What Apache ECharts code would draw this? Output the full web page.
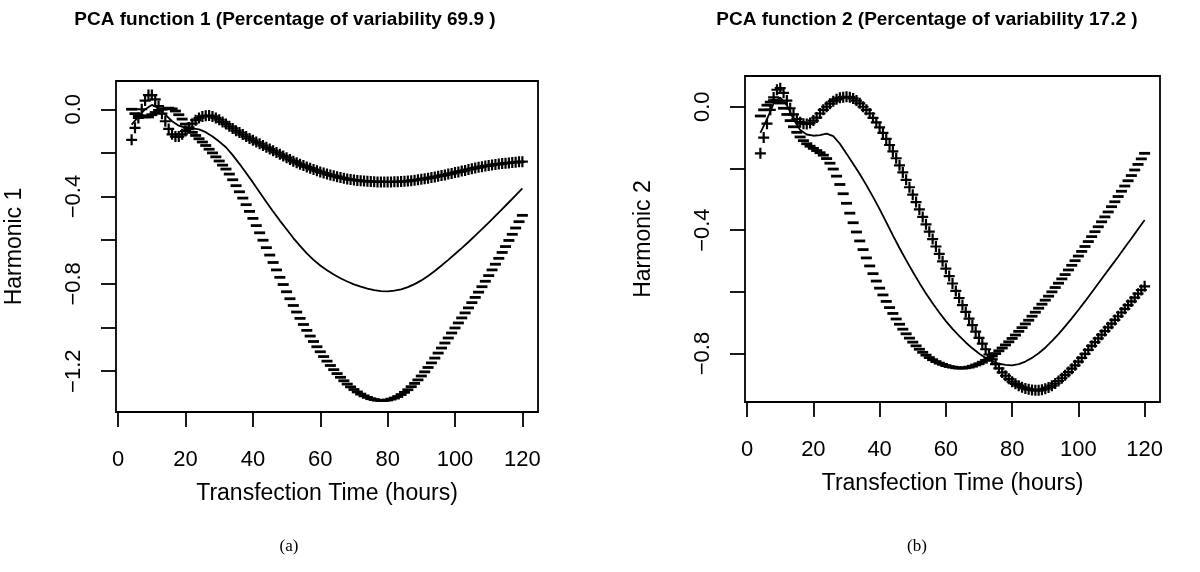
<!DOCTYPE html>
<html>
<head>
<meta charset="utf-8">
<script src="https://cdn.jsdelivr.net/npm/echarts@6/dist/echarts.min.js"></script>
<style>
html,body{margin:0;padding:0;background:#fff;}
#chart{width:1200px;height:572px;}
</style>
</head>
<body>
<div id="chart"></div>
<script>
// ---------- data ----------
const hours = [4,5,6,7,8,9,10,11,12,13,14,15,16,17,18,19,20,21,22,23,24,25,26,27,28,29,30,31,32,33,34,35,36,37,38,39,40,41,42,43,44,45,46,47,48,49,50,51,52,53,54,55,56,57,58,59,60,61,62,63,64,65,66,67,68,69,70,71,72,73,74,75,76,77,78,79,80,81,82,83,84,85,86,87,88,89,90,91,92,93,94,95,96,97,98,99,100,101,102,103,104,105,106,107,108,109,110,111,112,113,114,115,116,117,118,119,120];
const hoursMean = [4,6,8,10,12,14,16,18,20,22,24,26,28,30,32,34,36,38,40,42,44,46,48,50,52,54,56,58,60,62,64,66,68,70,72,74,76,78,80,82,84,86,88,90,92,94,96,98,100,102,104,106,108,110,112,114,116,118,120];

// Panel (a): PCA function 1
const mean1 = [-0.07,-0.035,0.0,0.02,0.005,-0.025,-0.055,-0.075,-0.085,-0.088,-0.092,-0.105,-0.125,-0.148,-0.174,-0.21,-0.25,-0.292,-0.335,-0.38,-0.425,-0.468,-0.51,-0.55,-0.59,-0.626,-0.66,-0.69,-0.716,-0.738,-0.757,-0.774,-0.789,-0.802,-0.813,-0.822,-0.829,-0.833,-0.834,-0.831,-0.825,-0.815,-0.801,-0.784,-0.764,-0.741,-0.716,-0.69,-0.663,-0.636,-0.608,-0.579,-0.549,-0.519,-0.488,-0.457,-0.426,-0.395,-0.363];
const plus1 = [-0.14,-0.085,-0.04,0.0,0.04,0.065,0.065,0.045,0.015,-0.02,-0.055,-0.09,-0.115,-0.125,-0.125,-0.115,-0.1,-0.083,-0.066,-0.05,-0.04,-0.033,-0.03,-0.029,-0.033,-0.04,-0.048,-0.058,-0.068,-0.078,-0.088,-0.098,-0.107,-0.116,-0.125,-0.134,-0.142,-0.15,-0.158,-0.166,-0.174,-0.182,-0.19,-0.198,-0.206,-0.214,-0.222,-0.23,-0.238,-0.245,-0.252,-0.258,-0.264,-0.27,-0.276,-0.282,-0.287,-0.292,-0.297,-0.301,-0.305,-0.309,-0.313,-0.316,-0.319,-0.322,-0.324,-0.326,-0.328,-0.329,-0.33,-0.331,-0.332,-0.333,-0.333,-0.333,-0.333,-0.333,-0.332,-0.332,-0.331,-0.33,-0.329,-0.327,-0.325,-0.323,-0.321,-0.318,-0.316,-0.313,-0.31,-0.307,-0.304,-0.301,-0.297,-0.294,-0.29,-0.287,-0.283,-0.28,-0.276,-0.273,-0.269,-0.266,-0.263,-0.26,-0.258,-0.255,-0.253,-0.251,-0.249,-0.247,-0.246,-0.244,-0.243,-0.241,-0.24];
const minus1 = [0.0,-0.02,-0.03,-0.03,-0.035,-0.035,-0.025,-0.015,-0.005,0.0,0.003,0.005,0.002,-0.008,-0.025,-0.045,-0.068,-0.09,-0.106,-0.12,-0.135,-0.15,-0.166,-0.183,-0.2,-0.218,-0.237,-0.256,-0.274,-0.297,-0.323,-0.35,-0.378,-0.407,-0.437,-0.468,-0.5,-0.533,-0.566,-0.6,-0.634,-0.668,-0.702,-0.736,-0.77,-0.803,-0.836,-0.868,-0.899,-0.929,-0.958,-0.986,-1.013,-1.039,-1.064,-1.088,-1.111,-1.133,-1.154,-1.174,-1.193,-1.211,-1.228,-1.244,-1.259,-1.272,-1.284,-1.295,-1.305,-1.313,-1.32,-1.326,-1.33,-1.333,-1.334,-1.334,-1.332,-1.328,-1.323,-1.316,-1.307,-1.297,-1.285,-1.271,-1.256,-1.24,-1.222,-1.203,-1.183,-1.162,-1.14,-1.117,-1.094,-1.071,-1.048,-1.025,-1.002,-0.979,-0.956,-0.933,-0.91,-0.886,-0.862,-0.838,-0.813,-0.788,-0.762,-0.736,-0.71,-0.683,-0.656,-0.629,-0.601,-0.573,-0.544,-0.515,-0.486];

// Panel (b): PCA function 2
const mean2 = [-0.085,-0.04,0.01,0.03,0.005,-0.04,-0.075,-0.09,-0.094,-0.092,-0.087,-0.095,-0.12,-0.152,-0.185,-0.218,-0.254,-0.292,-0.332,-0.374,-0.417,-0.458,-0.497,-0.535,-0.571,-0.605,-0.637,-0.667,-0.695,-0.72,-0.743,-0.764,-0.783,-0.8,-0.814,-0.825,-0.833,-0.837,-0.838,-0.834,-0.826,-0.814,-0.799,-0.781,-0.76,-0.737,-0.712,-0.686,-0.659,-0.631,-0.602,-0.573,-0.544,-0.515,-0.486,-0.456,-0.427,-0.397,-0.367];
const plus2 = [-0.151,-0.1,-0.055,-0.01,0.03,0.055,0.06,0.045,0.02,-0.005,-0.025,-0.04,-0.05,-0.055,-0.056,-0.053,-0.045,-0.035,-0.022,-0.01,0.0,0.01,0.018,0.024,0.029,0.031,0.032,0.031,0.027,0.02,0.011,0.0,-0.01,-0.022,-0.036,-0.051,-0.067,-0.085,-0.104,-0.124,-0.145,-0.167,-0.19,-0.213,-0.237,-0.261,-0.285,-0.309,-0.333,-0.357,-0.381,-0.405,-0.429,-0.453,-0.477,-0.501,-0.525,-0.549,-0.573,-0.597,-0.62,-0.643,-0.665,-0.687,-0.708,-0.729,-0.749,-0.768,-0.786,-0.803,-0.819,-0.834,-0.848,-0.861,-0.872,-0.882,-0.891,-0.898,-0.904,-0.909,-0.913,-0.916,-0.918,-0.919,-0.919,-0.917,-0.914,-0.91,-0.904,-0.897,-0.889,-0.88,-0.87,-0.86,-0.849,-0.838,-0.826,-0.814,-0.801,-0.788,-0.775,-0.763,-0.751,-0.739,-0.727,-0.715,-0.703,-0.691,-0.679,-0.667,-0.655,-0.643,-0.631,-0.619,-0.606,-0.594,-0.582];
const minus2 = [-0.03,-0.01,0.005,0.015,0.02,0.02,0.012,-0.005,-0.025,-0.045,-0.065,-0.083,-0.098,-0.11,-0.12,-0.128,-0.135,-0.142,-0.149,-0.157,-0.168,-0.183,-0.202,-0.225,-0.252,-0.282,-0.313,-0.345,-0.376,-0.406,-0.435,-0.463,-0.49,-0.516,-0.541,-0.565,-0.588,-0.61,-0.631,-0.651,-0.67,-0.688,-0.705,-0.721,-0.736,-0.75,-0.763,-0.775,-0.786,-0.796,-0.805,-0.813,-0.82,-0.826,-0.831,-0.835,-0.839,-0.842,-0.844,-0.846,-0.847,-0.847,-0.846,-0.844,-0.841,-0.837,-0.833,-0.828,-0.822,-0.815,-0.808,-0.8,-0.791,-0.782,-0.772,-0.762,-0.751,-0.74,-0.728,-0.716,-0.704,-0.692,-0.679,-0.666,-0.653,-0.64,-0.627,-0.614,-0.6,-0.586,-0.572,-0.558,-0.544,-0.529,-0.514,-0.499,-0.484,-0.469,-0.453,-0.437,-0.421,-0.405,-0.389,-0.373,-0.357,-0.341,-0.324,-0.308,-0.291,-0.274,-0.257,-0.24,-0.223,-0.205,-0.187,-0.169,-0.151];

// axis ticks / labels
const xTicks = [0,20,40,60,80,100,120];
const yTicks1 = [0,-0.2,-0.4,-0.6,-0.8,-1.0,-1.2];
const yLabels1 = [0,-0.4,-0.8,-1.2];
const yTicks2 = [0,-0.2,-0.4,-0.6,-0.8];
const yLabels2 = [0,-0.4,-0.8];

const titles = ['PCA function 1 (Percentage of variability 69.9 )','PCA function 2 (Percentage of variability 17.2 )'];
const yNames = ['Harmonic 1','Harmonic 2'];
const xName = 'Transfection Time (hours)';
const captions = ['(a)','(b)'];

// ---------- chart ----------
const zip = (xs, ys) => xs.map((x, i) => [x, ys[i]]);
const FONT = 'Liberation Sans';
const PLUS = 'path://M4,0L6,0L6,4L10,4L10,6L6,6L6,10L4,10L4,6L0,6L0,4L4,4Z';
const MINUS = 'path://M0,0L10,0L10,2L0,2Z';
const fmt = v => (v < 0 ? '\u2212' : '') + Math.abs(v).toFixed(1);

const grids = [
  {left:116, top:81, width:422, height:331},
  {left:745, top:76, width:415, height:326}
];
const yRanges = [[-1.387, 0.1295], [-0.957, 0.0996]];

function xAxisFor(i){
  return {
    gridIndex:i, type:'value', min:-0.64, max:124.64,
    axisLine:{show:false, onZero:false},
    axisTick:{show:true, customValues:xTicks, length:15, lineStyle:{color:'#000', width:1.8}},
    axisLabel:{show:true, customValues:xTicks, margin:37, fontSize:22, fontFamily:FONT, color:'#000'},
    splitLine:{show:false},
    name:xName, nameLocation:'middle', nameGap:70,
    nameTextStyle:{fontSize:23, fontFamily:FONT, color:'#000'}
  };
}
function yAxisFor(i, ticks, labels){
  return {
    gridIndex:i, type:'value', min:yRanges[i][0], max:yRanges[i][1],
    axisLine:{show:false, onZero:false},
    axisTick:{show:true, customValues:ticks, length:15, lineStyle:{color:'#000', width:1.8}},
    axisLabel:{show:true, customValues:labels, rotate:90, margin:31, fontSize:22, fontFamily:FONT, color:'#000', formatter:fmt},
    splitLine:{show:false},
    name:yNames[i], nameLocation:'middle', nameGap:90,
    nameTextStyle:{fontSize:23, fontFamily:FONT, color:'#000'}
  };
}
function panelSeries(i, mean, plus, minus){
  return [
    {type:'line', xAxisIndex:i, yAxisIndex:i, data:zip(hoursMean, mean), showSymbol:false, symbol:'none',
     lineStyle:{color:'#000', width:1.8}, z:3},
    {type:'scatter', xAxisIndex:i, yAxisIndex:i, data:zip(hours, plus), symbol:PLUS, symbolSize:11,
     itemStyle:{color:'#000', opacity:1}, z:2},
    {type:'scatter', xAxisIndex:i, yAxisIndex:i, data:zip(hours, minus), symbol:MINUS, symbolSize:[11,2.8],
     itemStyle:{color:'#000', opacity:1}, z:2}
  ];
}

const chart = echarts.init(document.getElementById('chart'), null, {renderer:'canvas'});
chart.setOption({
  animation:false,
  backgroundColor:'#fff',
  grid: grids.map(g => Object.assign({show:true, borderColor:'#000', borderWidth:1.8, backgroundColor:'transparent', containLabel:false}, g)),
  xAxis:[xAxisFor(0), xAxisFor(1)],
  yAxis:[yAxisFor(0, yTicks1, yLabels1), yAxisFor(1, yTicks2, yLabels2)],
  series:[].concat(panelSeries(0, mean1, plus1, minus1), panelSeries(1, mean2, plus2, minus2)),
  graphic:[
    {type:'text', x:285, y:20, style:{text:titles[0], align:'center', verticalAlign:'middle', fontSize:19, fontWeight:'bold', fontFamily:FONT, fill:'#000'}},
    {type:'text', x:927, y:20, style:{text:titles[1], align:'center', verticalAlign:'middle', fontSize:19, fontWeight:'bold', fontFamily:FONT, fill:'#000'}},
    {type:'text', x:289, y:547, style:{text:captions[0], align:'center', verticalAlign:'middle', fontSize:17, fontFamily:'Liberation Serif', fill:'#000'}},
    {type:'text', x:917, y:547, style:{text:captions[1], align:'center', verticalAlign:'middle', fontSize:17, fontFamily:'Liberation Serif', fill:'#000'}}
  ]
});
</script>
</body>
</html>
